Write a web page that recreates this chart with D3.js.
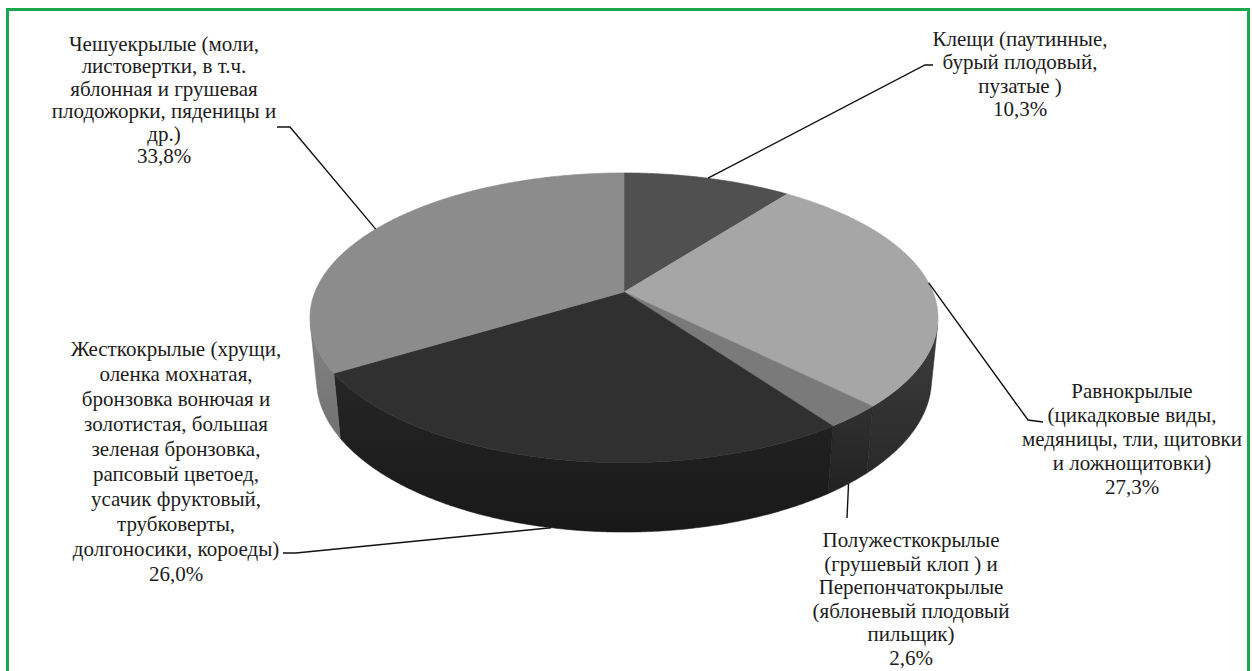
<!DOCTYPE html>
<html><head><meta charset="utf-8">
<script src="https://cdn.jsdelivr.net/npm/d3@7"></script>
<style>
html,body{margin:0;padding:0;background:#fff;}
svg{display:block;}
</style></head>
<body>
<svg id="chart" width="1252" height="671"></svg>
<script>
// ---- data ----
const categories = [
  "Клещи",
  "Равнокрылые",
  "Полужесткокрылые и Перепончатокрылые",
  "Жесткокрылые",
  "Чешуекрылые"
];
const values = [10.3, 27.3, 2.6, 26.0, 33.8];
const labelLines = [
  ["Клещи (паутинные,", "бурый плодовый,", "пузатые )"],
  ["Равнокрылые", "(цикадковые виды,", "медяницы, тли, щитовки", "и ложнощитовки)"],
  ["Полужесткокрылые", "(грушевый клоп ) и", "Перепончатокрылые", "(яблоневый плодовый", "пильщик)"],
  ["Жесткокрылые (хрущи,", "оленка мохнатая,", "бронзовка вонючая и", "золотистая, большая", "зеленая бронзовка,", "рапсовый цветоед,", "усачик фруктовый,", "трубковерты,", "долгоносики, короеды)"],
  ["Чешуекрылые (моли,", "листовертки, в т.ч.", "яблонная и грушевая", "плодожорки, пяденицы и", "др.)"]
];

// ---- styles / layout ----
const topColors  = ["#505050", "#a6a6a6", "#7a7a7a", "#303030", "#8c8c8c"];
const sideTop    = ["#404040", "#3c3c3c", "#303030", "#262626", "#838383"];
const sideBottom = ["#2c2c2c", "#2a2a2a", "#222222", "#181818", "#727272"];
const labelLayout = [
  {x: 1020, y: 46,  step: 23.3, leader: [[933, 65], [925, 65]], end: "top"},
  {x: 1132, y: 398, step: 24,   leader: [[1043, 422], [1028, 420]], end: "top"},
  {x: 911,  y: 547, step: 23.6, leader: [[847, 518]], end: "bottom"},
  {x: 176,  y: 356, step: 25,   leader: [[283, 553], [296, 553]], end: "bottom"},
  {x: 164,  y: 51,  step: 22.4, leader: [[277, 127], [290, 127]], end: "top"}
];
const FONT = '"Liberation Serif"';
const FONT_SIZE = "21px";

const svg = d3.select("#chart");
const defs = svg.append("defs");

// green frame
svg.append("path")
  .attr("d", "M7.5,671 L7.5,9.5 L1248.5,9.5 L1248.5,671")
  .attr("fill", "none").attr("stroke", "#1aa84f").attr("stroke-width", 3);

// ---- 3D projection ----
const cx = 624, cy = 292, S = 309, k = 0.2, alpha = 27 * Math.PI / 180, thick = 0.225;
function proj(phi, y, r = 1) {
  const x = r * Math.sin(phi), z = -r * Math.cos(phi);
  const Ys = y * Math.cos(alpha) - z * Math.sin(alpha);
  const Dz = z * Math.cos(alpha) + y * Math.sin(alpha);
  const s = S / (1 - k * Dz);
  return [cx + s * x, cy - s * Ys];
}
const silR = Math.PI - Math.acos(k / Math.cos(alpha));
const silL = Math.PI + Math.acos(k / Math.cos(alpha));

const pie = d3.pie().sort(null).value(d => d)(values);
const line = d3.line();

function arcPts(a0, a1, y) {
  const n = Math.max(2, Math.ceil((a1 - a0) / (Math.PI / 360)));
  return d3.range(n + 1).map(i => proj(a0 + (a1 - a0) * i / n, y));
}

const gSide = svg.append("g");
const gTop = svg.append("g");

pie.forEach((p, i) => {
  const s0 = Math.max(p.startAngle, silR), s1 = Math.min(p.endAngle, silL);
  if (s1 > s0) {
    const gid = "sg" + i;
    const lg = defs.append("linearGradient").attr("id", gid)
      .attr("x1", 0).attr("y1", 0).attr("x2", 0).attr("y2", 1);
    lg.append("stop").attr("offset", "0%").attr("stop-color", sideTop[i]);
    lg.append("stop").attr("offset", "100%").attr("stop-color", sideBottom[i]);
    const pts = arcPts(s0, s1, 0).concat(arcPts(s0, s1, -thick).reverse());
    gSide.append("path").attr("d", line(pts) + "Z")
      .attr("fill", `url(#${gid})`).attr("stroke", sideBottom[i]).attr("stroke-width", 0.5);
  }
  const tp = [proj(0, 0, 0)].concat(arcPts(p.startAngle, p.endAngle, 0));
  gTop.append("path").attr("d", line(tp) + "Z")
    .attr("fill", topColors[i]).attr("stroke", topColors[i]).attr("stroke-width", 0.6);
});

// ---- labels ----
const fmt = v => d3.format(".1f")(v).replace(".", ",") + "%";
const gLab = svg.append("g");

pie.forEach((p, i) => {
  const L = labelLayout[i];
  const lines = labelLines[i].concat([fmt(values[i])]);
  const t = gLab.append("text").attr("text-anchor", "middle")
    .style("font-family", FONT).style("font-size", FONT_SIZE).style("fill", "#1c1c1c");
  lines.forEach((s, j) => {
    t.append("tspan").attr("x", L.x).attr("y", L.y + j * L.step).text(s);
  });
  const mid = (p.startAngle + p.endAngle) / 2;
  const endPt = proj(mid, L.end === "top" ? 0 : -thick);
  svg.append("path").attr("d", line(L.leader.concat([endPt])))
    .attr("fill", "none").attr("stroke", "#111").attr("stroke-width", 1.4);
});
</script>
</body></html>
